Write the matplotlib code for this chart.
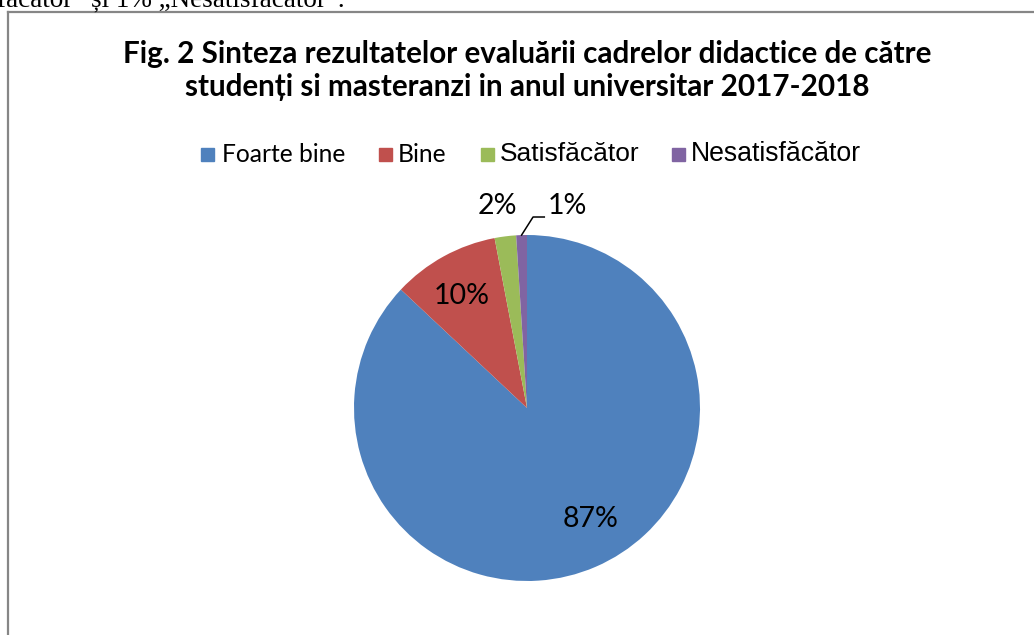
import matplotlib
matplotlib.use('Agg')
import matplotlib.pyplot as plt
from matplotlib.patches import Rectangle
from matplotlib.lines import Line2D
import numpy as np

# date
categorii = ['Foarte bine', 'Bine', 'Satisfăcător', 'Nesatisfăcător']
procente = [87, 10, 2, 1]
etichete = ['87%', '10%', '2%', '1%']
culori = ['#4F81BD', '#C0504D', '#9BBB59', '#8064A2']
titlu = ('Fig. 2 Sinteza rezultatelor evaluării cadrelor didactice de către\n'
         'studenți si masteranzi in anul universitar 2017-2018')
text_sus = 'Satisfăcător” și 1% „Nesatisfăcător”.'

W, H = 1034, 635
fig = plt.figure(figsize=(W / 100, H / 100), dpi=100)
fig.patch.set_facecolor('white')

calibri = ['Lato', 'DejaVu Sans']
arial = ['Liberation Sans', 'DejaVu Sans']

# textul taiat din pagina de deasupra
fig.text(345 / W, 1 - 7 / H, text_sus, ha='right', va='baseline',
         fontsize=19.5, family=['Liberation Serif', 'DejaVu Serif'])

# chenarul graficului
fig.add_artist(Line2D([8 / W, 8 / W], [0, 1 - 12 / H], color='#868686', lw=1.6,
                      transform=fig.transFigure))
fig.add_artist(Line2D([8 / W, 1], [1 - 12 / H, 1 - 12 / H], color='#868686', lw=1.6,
                      transform=fig.transFigure))

# titlu
fig.text(527 / W, 1 - 70.5 / H, titlu, ha='center', va='center', fontsize=21.3,
         fontweight='bold', family=calibri, linespacing=1.2)

# legenda
x_patrat = [201, 379, 481, 672]
x_text = [222, 398, 500, 691]
fonturi = [calibri, calibri, arial, arial]
marimi = [17.7, 17.7, 19, 19.2]
for i in range(len(categorii)):
    fig.add_artist(Rectangle((x_patrat[i] / W, 1 - 161 / H), 13 / W, 13 / H,
                             color=culori[i], transform=fig.transFigure))
    fig.text(x_text[i] / W, 1 - 154 / H, categorii[i], ha='left', va='center',
             fontsize=marimi[i], family=fonturi[i])

# placinta
ax = fig.add_axes([354 / W, (H - 581) / H, 346 / W, 346 / H])
felii, _ = ax.pie(procente, colors=culori, startangle=90, counterclock=False,
                  wedgeprops=dict(linewidth=0))
ax.set_xlim(-1, 1)
ax.set_ylim(-1, 1)
ax.set_aspect('equal')
ax.axis('off')

# etichete
poz = [(0.37, -0.642, 'center'), (-0.376, 0.647, 'center'),
       (-0.173, 1.168, 'center'), (0.121, 1.168, 'left')]
for (x, y, ha), t in zip(poz, etichete):
    ax.text(x, y, t, ha=ha, va='center', fontsize=20.5, family=calibri, clip_on=False)

# linie de ghidare pentru 1%
w = felii[3]
unghi = np.deg2rad((w.theta1 + w.theta2) / 2)
ax.plot([np.cos(unghi), 0.035, 0.10], [np.sin(unghi), 1.104, 1.104],
        color='black', lw=1.1, clip_on=False)

fig.savefig('out.png', dpi=100)
